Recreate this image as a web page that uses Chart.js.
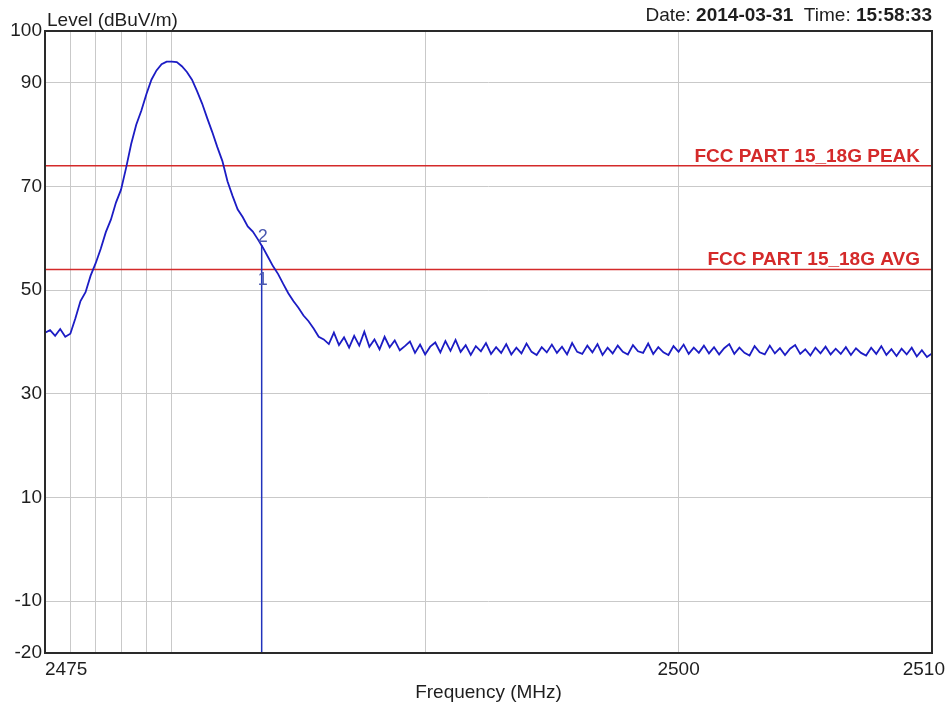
<!DOCTYPE html>
<html>
<head>
<meta charset="utf-8">
<script src="https://cdn.jsdelivr.net/npm/chart.js@4/dist/chart.umd.min.js"></script>
<style>
  body { margin: 0; background: #fff; }
  #grafico { display: block; }
</style>
</head>
<body>
<canvas id="grafico" width="949" height="708"></canvas>
<script>
// Barrido del analizador (MHz)
const sweepStart = 2475;
const sweepStop = 2510;

// Nivel medido en cada punto del barrido (dBuV/m), 0.2 MHz entre puntos
const levels = [
  41.8, 42.3, 41.2, 42.5, 41.0, 41.6, 44.6, 47.9, 49.6, 52.8,
  55.2, 58.0, 61.2, 63.6, 66.9, 69.4, 73.6, 78.2, 81.9, 84.6,
  87.8, 90.6, 92.4, 93.6, 94.1, 94.1, 94.0, 93.2, 92.1, 90.6,
  88.4, 86.0, 83.2, 80.5, 77.6, 74.9, 71.0, 68.2, 65.6, 64.1,
  62.3, 61.3, 59.8, 58.2, 56.4, 54.6, 53.1, 51.2, 49.4, 47.9,
  46.6, 45.1, 44.0, 42.6, 41.0, 40.5,
  39.6, 41.8, 39.4, 40.9, 38.9, 41.2, 39.3, 42.0, 39.1, 40.5, 38.6, 41.0, 39.0, 40.3, 38.4,
  39.2, 40.1, 37.9, 39.5, 37.6, 39.1, 39.9, 38.0, 40.2, 38.3, 40.4, 38.1, 39.4, 37.5, 39.2,
  38.2, 39.8, 37.7, 39.0, 37.9, 39.6, 37.6, 38.9, 37.8, 39.7, 38.1, 37.5, 39.0, 38.0, 39.5,
  37.9, 39.1, 37.6, 39.8, 38.1, 37.7, 39.3, 38.0, 39.6, 37.5, 38.9, 37.8, 39.3, 38.1, 37.6,
  39.4, 38.2, 37.9, 39.7, 37.7, 39.0, 38.0, 37.5, 39.2, 38.1, 39.5, 37.7, 38.9, 37.9, 39.3,
  37.8, 39.0, 37.6, 38.8, 39.6, 37.7, 38.9, 37.9, 37.4, 39.2, 38.0, 37.6, 39.3, 37.8, 38.8,
  37.5, 38.7, 39.4, 37.7, 38.6, 37.4, 38.9, 37.8, 39.1, 37.6, 38.7, 37.7, 39.0, 37.5, 38.8,
  37.9, 37.4, 38.9, 37.7, 39.2, 37.5, 38.6, 37.3, 38.7, 37.6, 38.9, 37.2, 38.4, 37.1, 37.8
];

// Límites FCC
const limitNames = ["FCC PART 15_18G PEAK", "FCC PART 15_18G AVG"];
const limitLevels = [74, 54];

// Marcadores
const markerNames = ["1", "2"];
const markerFreqs = [2483.55, 2483.55];
const markerLevels = [51.9, 58.7];

// Ejes
const xTicks = [2475, 2476, 2477, 2478, 2479, 2480, 2490, 2500, 2510];
const xTickLabels = [2475, 2500, 2510];
const yTicks = [100, 90, 70, 50, 30, 10, -10, -20];

const FONT = "'Liberation Sans', Arial, sans-serif";
const ROJO = '#d42a2a';
const AZUL = '#1c1cc4';
const TEXTO = '#1e1e1e';

const stepMHz = (sweepStop - sweepStart) / (levels.length - 1);
const trace = levels.map((v, i) => ({ x: sweepStart + i * stepMHz, y: v }));

const limitSets = limitLevels.map((v, i) => ({
  label: limitNames[i],
  data: [{ x: sweepStart, y: v }, { x: sweepStop, y: v }],
  borderColor: ROJO,
  borderWidth: 1.6,
  pointRadius: 0,
  showLine: true
}));

const markerTop = Math.max(...markerLevels);
const markerLine = {
  label: 'marker',
  data: [{ x: markerFreqs[0], y: -20 }, { x: markerFreqs[0], y: markerTop }],
  borderColor: '#2233bb',
  borderWidth: 1.5,
  pointRadius: 0,
  showLine: true
};

// Textos, marco y etiquetas dibujadas a mano
const textos = {
  id: 'textos',
  afterDraw(chart) {
    const { ctx, chartArea: a, scales: { x, y } } = chart;
    ctx.save();

    // marco
    ctx.strokeStyle = '#2a2a2a';
    ctx.lineWidth = 2;
    ctx.strokeRect(a.left, a.top, a.right - a.left, a.bottom - a.top);

    // título del eje Y
    ctx.fillStyle = TEXTO;
    ctx.font = '19px ' + FONT;
    ctx.textAlign = 'left';
    ctx.textBaseline = 'alphabetic';
    ctx.fillText('Level (dBuV/m)', 47, 26);

    // fecha y hora (alineado a la derecha)
    const partes = [
      ['Date: ', false], ['2014-03-31', true], ['  Time: ', false], ['15:58:33', true]
    ];
    let ancho = 0;
    partes.forEach(p => {
      ctx.font = (p[1] ? 'bold ' : '') + '19px ' + FONT;
      ancho += ctx.measureText(p[0]).width;
    });
    let px = a.right - ancho;
    partes.forEach(p => {
      ctx.font = (p[1] ? 'bold ' : '') + '19px ' + FONT;
      ctx.fillText(p[0], px, 21);
      px += ctx.measureText(p[0]).width;
    });

    // etiquetas del eje X
    ctx.font = '19px ' + FONT;
    ctx.textBaseline = 'middle';
    xTickLabels.forEach(v => {
      const txt = String(v);
      const w = ctx.measureText(txt).width;
      let cx = x.getPixelForValue(v) - w / 2;
      cx = Math.max(a.left, Math.min(cx, chart.width - 4 - w));
      ctx.textAlign = 'left';
      ctx.fillText(txt, cx, 670);
    });

    // nombres de los límites
    ctx.fillStyle = ROJO;
    ctx.font = 'bold 19px ' + FONT;
    ctx.textAlign = 'right';
    ctx.textBaseline = 'alphabetic';
    limitLevels.forEach((v, i) => {
      ctx.fillText(limitNames[i], a.right - 12, y.getPixelForValue(v) - 4);
    });

    // números de los marcadores
    ctx.fillStyle = '#4a58b0';
    ctx.font = '18px ' + FONT;
    ctx.textAlign = 'center';
    ctx.textBaseline = 'middle';
    markerNames.forEach((n, i) => {
      const dy = markerLevels[i] === markerTop ? -8 : 0;
      ctx.fillText(n, x.getPixelForValue(markerFreqs[i]) + 1, y.getPixelForValue(markerLevels[i]) + dy);
    });

    ctx.restore();
  }
};

const gridColor = (lista) => (c) => {
  const v = c.tick && c.tick.value;
  return (v === lista[0] || v === lista[lista.length - 1]) ? 'rgba(0,0,0,0)' : '#c9c9c9';
};

new Chart(document.getElementById('grafico').getContext('2d'), {
  type: 'scatter',
  data: {
    datasets: [
      {
        label: 'Level',
        data: trace,
        borderColor: AZUL,
        borderWidth: 1.8,
        pointRadius: 0,
        showLine: true,
        tension: 0
      },
      markerLine,
      ...limitSets
    ]
  },
  options: {
    responsive: false,
    animation: false,
    layout: { padding: { top: 31, right: 17, left: 0, bottom: 0 } },
    plugins: {
      legend: { display: false },
      tooltip: { enabled: false }
    },
    scales: {
      x: {
        type: 'linear',
        min: sweepStart,
        max: sweepStop,
        afterBuildTicks: (s) => { s.ticks = xTicks.map(v => ({ value: v })); },
        afterFit: (s) => { s.height = 55; },
        grid: { color: gridColor(xTicks), lineWidth: 1, drawTicks: false },
        border: { display: false },
        ticks: { display: false },
        title: {
          display: true,
          text: 'Frequency (MHz)',
          color: TEXTO,
          font: { family: FONT, size: 19 },
          padding: { top: 0, bottom: 4 }
        }
      },
      y: {
        min: -20,
        max: 100,
        afterBuildTicks: (s) => { s.ticks = yTicks.map(v => ({ value: v })); },
        afterFit: (s) => { s.width = 45; },
        grid: { color: gridColor(yTicks), lineWidth: 1, drawTicks: false },
        border: { display: false },
        ticks: {
          color: TEXTO,
          padding: 3,
          font: { family: FONT, size: 19 }
        }
      }
    }
  },
  plugins: [textos]
});
</script>
</body>
</html>
